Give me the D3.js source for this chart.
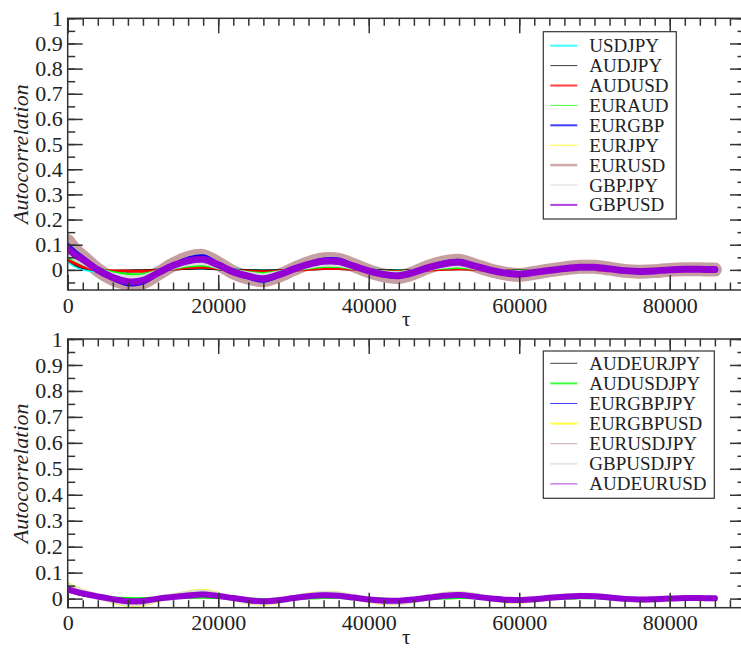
<!DOCTYPE html>
<html>
<head>
<meta charset="utf-8">
<script src="https://cdn.jsdelivr.net/npm/d3@7"></script>
<style>
  html, body { margin: 0; padding: 0; background: #fff; }
  svg { display: block; }
</style>
</head>
<body>
<svg id="chart" width="741" height="649"></svg>
<script>
// ---------------- DATA ----------------
const tau = [0,1000,2000,4000,6000,8000,10000,12000,14000,16000,18000,20000,22000,24000,26000,28000,30000,
  32000,34000,36000,38000,40000,42000,44000,46000,48000,50000,52000,54000,56000,58000,60000,62000,64000,
  66000,68000,70000,72000,74000,76000,78000,80000,82000,84000,86000];

const yTickValues = [0,0.1,0.2,0.3,0.4,0.5,0.6,0.7,0.8,0.9,1];
const yTickLabels = ["0","0.1","0.2","0.3","0.4","0.5","0.6","0.7","0.8","0.9","1"];
const xTickValues = [0,20000,40000,60000,80000];
const xTickLabels = ["0","20000","40000","60000","80000"];

// Top panel: currency pairs
const usdjpy = [0.035,0.015,0.003,-0.006,-0.008,-0.006,-0.004,-0.001,0.003,0.006,0.007,0.004,0.001,-0.002,-0.004,-0.003,0.0,
  0.003,0.005,0.005,0.003,0.0,-0.002,-0.003,-0.002,0.001,0.003,0.004,0.003,0.0,-0.002,-0.003,-0.002,0.0,
  0.002,0.003,0.003,0.002,0.0,-0.001,-0.001,0.0,0.001,0.001,0.0];
const audjpy = [0.04,0.02,0.008,-0.002,-0.003,-0.002,-0.001,0.0,0.002,0.004,0.005,0.002,0.0,-0.001,-0.002,-0.001,0.0,
  0.002,0.003,0.003,0.002,0.0,-0.001,-0.002,-0.001,0.0,0.002,0.003,0.002,0.0,-0.001,-0.002,-0.001,0.0,
  0.001,0.002,0.002,0.001,0.0,-0.001,-0.001,0.0,0.001,0.001,0.0];
const audusd = [0.04,0.025,0.012,0.0,-0.004,-0.005,-0.005,-0.002,0.003,0.008,0.01,0.005,-0.002,-0.005,-0.007,-0.005,-0.001,
  0.002,0.005,0.005,0.002,-0.002,-0.005,-0.006,-0.004,-0.001,0.002,0.003,0.002,-0.002,-0.004,-0.005,-0.004,-0.002,
  0.0,0.002,0.001,-0.001,-0.003,-0.003,-0.002,-0.001,0.0,0.0,0.0];
const euraud = [0.055,0.04,0.027,0.003,-0.012,-0.02,-0.02,-0.006,0.008,0.017,0.02,0.01,-0.003,-0.012,-0.016,-0.01,0.001,
  0.009,0.015,0.015,0.007,-0.002,-0.009,-0.011,-0.005,0.004,0.009,0.011,0.007,0.0,-0.006,-0.008,-0.005,-0.001,
  0.002,0.004,0.004,0.002,-0.001,-0.003,-0.002,0.0,0.001,0.001,0.0];
const eurgbp = [0.1,0.072,0.05,0.0,-0.036,-0.057,-0.051,-0.014,0.02,0.045,0.054,0.024,-0.01,-0.03,-0.043,-0.024,0.003,
  0.026,0.041,0.041,0.018,-0.005,-0.022,-0.028,-0.012,0.012,0.029,0.036,0.019,0.0,-0.014,-0.021,-0.012,-0.002,
  0.006,0.012,0.012,0.005,-0.003,-0.007,-0.005,0.0,0.002,0.002,0.001];
const eurjpy = [0.06,0.042,0.028,0.002,-0.016,-0.025,-0.024,-0.007,0.01,0.021,0.025,0.012,-0.004,-0.014,-0.02,-0.012,0.002,
  0.012,0.019,0.018,0.009,-0.003,-0.011,-0.013,-0.006,0.005,0.012,0.016,0.009,0.0,-0.007,-0.01,-0.006,-0.001,
  0.003,0.005,0.005,0.002,-0.002,-0.004,-0.003,0.0,0.001,0.001,0.0];
const eurusd = [0.115,0.078,0.052,0.0,-0.036,-0.054,-0.049,-0.015,0.021,0.047,0.055,0.026,-0.01,-0.031,-0.041,-0.024,0.003,
  0.027,0.042,0.04,0.019,-0.005,-0.022,-0.028,-0.012,0.013,0.03,0.036,0.019,0.0,-0.014,-0.02,-0.012,-0.002,
  0.006,0.012,0.012,0.005,-0.004,-0.007,-0.005,0.0,0.002,0.002,0.001];
const gbpjpy = [0.065,0.045,0.03,0.0,-0.02,-0.03,-0.028,-0.008,0.011,0.024,0.028,0.013,-0.005,-0.016,-0.023,-0.013,0.002,
  0.014,0.022,0.021,0.01,-0.003,-0.012,-0.015,-0.007,0.006,0.015,0.019,0.01,0.0,-0.008,-0.011,-0.007,-0.001,
  0.003,0.006,0.006,0.003,-0.002,-0.004,-0.003,0.0,0.001,0.001,0.0];
const gbpusd = [0.085,0.06,0.042,0.0,-0.03,-0.047,-0.042,-0.012,0.017,0.036,0.042,0.02,-0.008,-0.025,-0.035,-0.02,0.003,
  0.022,0.034,0.033,0.015,-0.004,-0.018,-0.023,-0.01,0.01,0.024,0.03,0.016,0.0,-0.012,-0.017,-0.01,-0.002,
  0.005,0.01,0.01,0.004,-0.003,-0.006,-0.004,0.0,0.002,0.002,0.001];

// Bottom panel: triangles
const audeurjpy = [0.03,0.02,0.012,0.004,0.0,-0.002,-0.002,0.0,0.002,0.004,0.005,0.003,0.001,-0.001,-0.002,-0.001,0.001,
  0.002,0.003,0.003,0.002,0.0,-0.001,-0.002,-0.001,0.001,0.002,0.003,0.002,0.0,-0.001,-0.002,-0.001,0.0,
  0.001,0.002,0.002,0.001,0.0,-0.001,0.0,0.0,0.001,0.001,0.0];
const audusdjpy = [0.035,0.024,0.016,0.006,0.002,0.0,0.0,0.002,0.003,0.005,0.006,0.004,0.001,-0.002,-0.003,-0.002,0.0,
  0.002,0.004,0.004,0.002,0.0,-0.002,-0.003,-0.002,0.0,0.002,0.004,0.003,0.0,-0.002,-0.003,-0.002,0.0,
  0.002,0.003,0.003,0.002,0.0,-0.001,-0.001,0.0,0.001,0.001,0.0];
const eurgbpjpy = [0.04,0.03,0.021,0.008,-0.002,-0.011,-0.01,0.0,0.007,0.013,0.017,0.011,0.002,-0.006,-0.011,-0.007,0.002,
  0.009,0.013,0.012,0.004,-0.003,-0.008,-0.009,-0.004,0.004,0.011,0.014,0.008,0.001,-0.004,-0.006,-0.002,0.003,
  0.007,0.01,0.009,0.004,-0.001,-0.003,-0.002,0.0,0.002,0.002,0.001];
const eurgbpusd = [0.055,0.04,0.028,0.008,-0.01,-0.022,-0.02,-0.004,0.01,0.022,0.028,0.016,0.0,-0.013,-0.018,-0.011,0.002,
  0.014,0.02,0.018,0.006,-0.007,-0.015,-0.015,-0.007,0.006,0.016,0.02,0.012,0.0,-0.008,-0.01,-0.005,0.002,
  0.008,0.011,0.01,0.004,-0.002,-0.005,-0.004,0.0,0.002,0.002,0.001];
const eurusdjpy = [0.045,0.032,0.022,0.007,-0.004,-0.014,-0.013,-0.001,0.008,0.016,0.02,0.012,0.001,-0.008,-0.013,-0.008,0.002,
  0.011,0.015,0.014,0.005,-0.004,-0.01,-0.011,-0.005,0.005,0.013,0.016,0.01,0.001,-0.005,-0.007,-0.003,0.002,
  0.007,0.01,0.009,0.004,-0.001,-0.004,-0.003,0.0,0.002,0.002,0.001];
const gbpusdjpy = [0.05,0.036,0.025,0.008,-0.007,-0.018,-0.016,-0.002,0.009,0.019,0.024,0.014,0.001,-0.01,-0.015,-0.009,0.002,
  0.012,0.018,0.016,0.006,-0.005,-0.012,-0.013,-0.006,0.005,0.014,0.018,0.011,0.001,-0.006,-0.008,-0.004,0.002,
  0.008,0.011,0.01,0.004,-0.002,-0.004,-0.003,0.0,0.002,0.002,0.001];
const audeurusd = [0.035,0.027,0.02,0.008,-0.002,-0.01,-0.009,0.0,0.006,0.012,0.016,0.01,0.002,-0.006,-0.01,-0.006,0.002,
  0.009,0.013,0.011,0.004,-0.003,-0.008,-0.008,-0.003,0.004,0.011,0.014,0.008,0.001,-0.004,-0.005,-0.002,0.003,
  0.007,0.01,0.009,0.004,-0.001,-0.003,-0.002,0.0,0.002,0.002,0.001];

const topNames = ["USDJPY","AUDJPY","AUDUSD","EURAUD","EURGBP","EURJPY","EURUSD","GBPJPY","GBPUSD"];
const topValues = [usdjpy,audjpy,audusd,euraud,eurgbp,eurjpy,eurusd,gbpjpy,gbpusd];
const botNames = ["AUDEURJPY","AUDUSDJPY","EURGBPJPY","EURGBPUSD","EURUSDJPY","GBPUSDJPY","AUDEURUSD"];
const botValues = [audeurjpy,audusdjpy,eurgbpjpy,eurgbpusd,eurusdjpy,gbpusdjpy,audeurusd];

// ---------------- STYLE ----------------
const FONT = "'Liberation Serif', 'DejaVu Serif', 'Times New Roman', Times, serif";
const topColors = ["#00ffff","#000000","#ff0000","#00ff00","#0000ff","#ffff00","#bc8f8f","#dcdcdc","#9400d3"];
const topWidths = [3,2,3,4,4,2,14,5,7];
const topOpacity = [1,1,1,1,1,1,0.85,1,1];
const topLegendWidths = [2,1,2,1,2,1,2.5,1.5,2];
const topOrder = [6,0,1,2,3,5,7,4,8];   // draw order (EURUSD band at the back)
const botColors = ["#000000","#00ff00","#0000ff","#ffff00","#bc8f8f","#dcdcdc","#9400d3"];
const botWidths = [2,3,3,5,4,6,6];
const botOpacity = [1,1,1,1,1,1,1];
const botLegendWidths = [1,2,1,2,1,2,1];
const botOrder = [3,5,4,0,1,2,6];

const svg = d3.select("#chart");
const x = d3.scaleLinear().domain([0, 90000]).range([67.7, 745]);
const axisColor = "#333";

function panel(cfg) {
  const y = d3.scaleLinear().domain(cfg.ydom).range([cfg.bottom, cfg.top]);
  const g = svg.append("g");
  const clipId = "clip" + cfg.id;
  svg.append("clipPath").attr("id", clipId).append("rect")
    .attr("x", x.range()[0]).attr("y", cfg.top)
    .attr("width", x.range()[1] - x.range()[0]).attr("height", cfg.bottom - cfg.top);

  // lines
  const line = d3.line().x((d, i) => x(tau[i])).y(d => y(d)).curve(d3.curveCatmullRom);
  const lg = g.append("g").attr("clip-path", `url(#${clipId})`);
  cfg.order.forEach(k => {
    lg.append("path").datum(cfg.values[k])
      .attr("d", line).attr("fill", "none")
      .attr("stroke", cfg.colors[k]).attr("stroke-width", cfg.widths[k])
      .attr("stroke-opacity", cfg.opacity[k])
      .attr("stroke-linejoin", "round").attr("stroke-linecap", "round");
  });

  // minor ticks
  const xMinor = d3.range(0, 90001, 2000);
  const yMinor = d3.range(-1, 21).map(v => v * 0.05).filter(v => v >= cfg.ydom[0] - 1e-9 && v <= 1 + 1e-9);

  function styleAxis(sel) {
    sel.select(".domain").remove();
    sel.attr("font-family", null);
    sel.selectAll(".tick line").attr("stroke", axisColor).attr("stroke-width", 1.5);
    sel.selectAll(".tick text").attr("fill", "#222")
      .style("font-family", FONT).style("font-size", "22px");
  }
  // bottom
  g.append("g").attr("transform", `translate(0,${cfg.bottom})`)
    .call(d3.axisBottom(x).tickValues(xMinor).tickSize(-7.5).tickFormat("")).call(styleAxis);
  g.append("g").attr("transform", `translate(0,${cfg.bottom})`)
    .call(d3.axisBottom(x).tickValues(xTickValues).tickSize(-15).tickPadding(7)
      .tickFormat((d, i) => xTickLabels[i])).call(styleAxis);
  // top
  g.append("g").attr("transform", `translate(0,${cfg.top})`)
    .call(d3.axisTop(x).tickValues(xMinor).tickSize(-7.5).tickFormat("")).call(styleAxis);
  g.append("g").attr("transform", `translate(0,${cfg.top})`)
    .call(d3.axisTop(x).tickValues(xTickValues).tickSize(-15).tickFormat("")).call(styleAxis);
  // left
  g.append("g").attr("transform", `translate(${x.range()[0]},0)`)
    .call(d3.axisLeft(y).tickValues(yMinor).tickSize(-7.5).tickFormat("")).call(styleAxis);
  g.append("g").attr("transform", `translate(${x.range()[0]},0)`)
    .call(d3.axisLeft(y).tickValues(yTickValues).tickSize(-15).tickPadding(5)
      .tickFormat((d, i) => yTickLabels[i])).call(styleAxis);
  // right
  g.append("g").attr("transform", `translate(${x.range()[1]},0)`)
    .call(d3.axisRight(y).tickValues(yMinor).tickSize(-7.5).tickFormat("")).call(styleAxis);
  g.append("g").attr("transform", `translate(${x.range()[1]},0)`)
    .call(d3.axisRight(y).tickValues(yTickValues).tickSize(-15).tickFormat("")).call(styleAxis);

  // frame
  g.append("rect").attr("x", x.range()[0]).attr("y", cfg.top)
    .attr("width", x.range()[1] - x.range()[0]).attr("height", cfg.bottom - cfg.top)
    .attr("fill", "none").attr("stroke", axisColor).attr("stroke-width", 1.5);

  // axis titles
  g.append("text").attr("x", (x.range()[0] + x.range()[1]) / 2).attr("y", cfg.bottom + 36)
    .attr("text-anchor", "middle").attr("fill", "#222")
    .style("font-family", FONT).style("font-size", "21px").text("τ");
  g.append("text")
    .attr("transform", `translate(28,${(cfg.top + cfg.bottom) / 2}) rotate(-90)`)
    .attr("text-anchor", "middle").attr("fill", "#222")
    .style("font-family", FONT).style("font-size", "22px").style("font-style", "italic")
    .text("Autocorrelation");

  // legend
  const L = cfg.legend;
  const lgd = g.append("g");
  lgd.append("rect").attr("x", L.x).attr("y", L.y).attr("width", L.w).attr("height", L.h)
    .attr("fill", "#fff").attr("stroke", axisColor).attr("stroke-width", 1.2);
  cfg.names.forEach((n, i) => {
    const cy = L.first + i * L.step;
    lgd.append("line").attr("x1", L.x + 7).attr("x2", L.x + 34).attr("y1", cy).attr("y2", cy)
      .attr("stroke", cfg.colors[i]).attr("stroke-width", cfg.legendWidths[i]).attr("stroke-opacity", 0.75);
    lgd.append("text").attr("x", L.x + 46).attr("y", cy + 6.5).attr("fill", "#222")
      .style("font-family", FONT).style("font-size", "19px").text(n);
  });
}

panel({
  id: "top", ydom: [-0.08, 1], top: 18.3, bottom: 290,
  values: topValues, names: topNames, colors: topColors, widths: topWidths, opacity: topOpacity,
  legendWidths: topLegendWidths, order: topOrder,
  legend: { x: 543.3, y: 31.7, w: 133, h: 187.3, first: 45.7, step: 19.9 }
});
panel({
  id: "bot", ydom: [-0.035, 1], top: 339, bottom: 607.7,
  values: botValues, names: botNames, colors: botColors, widths: botWidths, opacity: botOpacity,
  legendWidths: botLegendWidths, order: botOrder,
  legend: { x: 543.3, y: 351, w: 171, h: 147.3, first: 363.3, step: 20.1 }
});
</script>
</body>
</html>
